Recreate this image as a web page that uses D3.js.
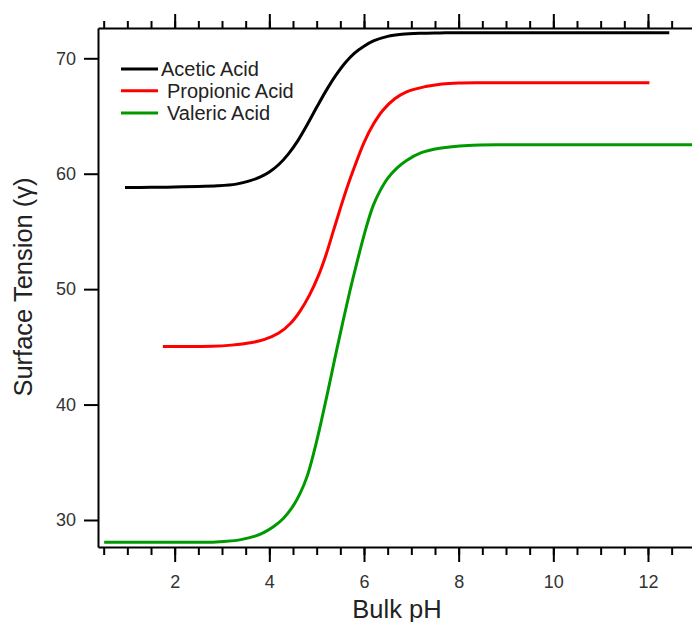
<!DOCTYPE html>
<html>
<head>
<meta charset="utf-8">
<script src="https://cdn.jsdelivr.net/npm/d3@7"></script>
<style>
  body { margin: 0; background: #fff; }
  svg { display: block; font-family: "Liberation Sans", Arial, sans-serif; }
</style>
</head>
<body>
<svg id="chart" width="692" height="622"></svg>
<script>
// values: [pH, surface tension]
const acetic = [
  [0.95, 58.81], [1.5, 58.82], [2.0, 58.85], [2.5, 58.9], [2.9, 58.95],
  [3.3, 59.1], [3.6, 59.4], [3.8, 59.7], [4.0, 60.15], [4.2, 60.8],
  [4.4, 61.7], [4.6, 62.85], [4.8, 64.25], [5.0, 65.75], [5.2, 67.2],
  [5.4, 68.5], [5.6, 69.6], [5.8, 70.45], [6.0, 71.05], [6.2, 71.5],
  [6.5, 71.9], [6.8, 72.08], [7.2, 72.17], [7.6, 72.2], [8.0, 72.22],
  [9.0, 72.22], [10.0, 72.22], [11.0, 72.22], [12.45, 72.22]
];
const propionic = [
  [1.75, 45.03], [2.3, 45.04], [2.8, 45.05], [3.2, 45.15], [3.6, 45.35],
  [3.9, 45.65], [4.2, 46.2], [4.45, 47.05], [4.65, 48.1], [4.85, 49.5],
  [5.05, 51.3], [5.2, 53.0], [5.35, 55.0], [5.5, 57.0], [5.65, 58.9],
  [5.8, 60.6], [6.0, 62.7], [6.2, 64.3], [6.4, 65.5], [6.65, 66.5],
  [6.9, 67.1], [7.3, 67.55], [7.65, 67.78], [8.0, 67.87], [8.5, 67.89],
  [9.5, 67.89], [10.5, 67.89], [12.03, 67.89]
];
const valeric = [
  [0.51, 28.07], [1.2, 28.07], [2.0, 28.07], [2.8, 28.08], [3.1, 28.15],
  [3.4, 28.3], [3.7, 28.6], [3.9, 28.95], [4.1, 29.45], [4.3, 30.15],
  [4.5, 31.2], [4.65, 32.3], [4.8, 33.8], [4.95, 36.0], [5.1, 38.6],
  [5.25, 41.4], [5.4, 44.3], [5.55, 47.1], [5.7, 49.8], [5.85, 52.3],
  [6.05, 55.4], [6.2, 57.3], [6.35, 58.6], [6.5, 59.6], [6.7, 60.5],
  [6.9, 61.15], [7.2, 61.8], [7.6, 62.2], [8.2, 62.45], [9.0, 62.51],
  [10.0, 62.51], [11.0, 62.51], [12.93, 62.51]
];
const seriesNames = ["Acetic Acid", "Propionic Acid", "Valeric Acid"];
const xMajor = [2, 4, 6, 8, 10, 12];
const xMinor = d3.range(0.5, 13, 0.5);
const yTicks = [30, 40, 50, 60, 70];

const colors = ["#000000", "#ff0000", "#009a00"];
const svg = d3.select("#chart");

const plotL = 98, plotR = 692, plotT = 28, plotB = 547;
const x = d3.scaleLinear().domain([0.38, 12.93]).range([plotL, plotR]);
const y = d3.scaleLinear().domain([27.66, 72.625]).range([plotB, plotT]);

svg.append("defs").append("clipPath").attr("id", "plot")
  .append("rect")
  .attr("x", plotL).attr("y", plotT)
  .attr("width", plotR - plotL).attr("height", plotB - plotT);

function styleAxis(g) {
  g.selectAll("path.domain").attr("stroke", "#000").attr("stroke-width", 2);
  g.selectAll(".tick line").attr("stroke", "#000").attr("stroke-width", 2);
  g.selectAll(".tick text")
    .attr("fill", "#333")
    .attr("font-size", 18)
    .attr("font-family", "'Liberation Sans', Arial, sans-serif");
}

// bottom axis: minor then major
svg.append("g")
  .attr("transform", `translate(0,${plotB})`)
  .call(d3.axisBottom(x).tickValues(xMinor).tickSize(8).tickSizeOuter(0).tickFormat(""))
  .call(styleAxis);
svg.append("g")
  .attr("transform", `translate(0,${plotB})`)
  .call(d3.axisBottom(x).tickValues(xMajor).tickSize(15).tickSizeOuter(0).tickPadding(13))
  .call(styleAxis)
  .call(g => g.select("path.domain").remove());

// top axis, no labels
svg.append("g")
  .attr("transform", `translate(0,${plotT})`)
  .call(d3.axisTop(x).tickValues(xMinor).tickSize(7).tickSizeOuter(0).tickFormat(""))
  .call(styleAxis);
svg.append("g")
  .attr("transform", `translate(0,${plotT})`)
  .call(d3.axisTop(x).tickValues(xMajor).tickSize(14).tickSizeOuter(0).tickFormat(""))
  .call(styleAxis)
  .call(g => g.select("path.domain").remove());

// left axis
svg.append("g")
  .attr("transform", `translate(${plotL},0)`)
  .call(d3.axisLeft(y).tickValues(yTicks).tickSize(14).tickSizeOuter(0).tickPadding(8))
  .call(styleAxis);

// curves
const line = d3.line()
  .x(d => x(d[0]))
  .y(d => y(d[1]))
  .curve(d3.curveCatmullRom.alpha(0.5));

svg.append("g")
  .attr("clip-path", "url(#plot)")
  .selectAll("path")
  .data([acetic, propionic, valeric])
  .join("path")
    .attr("d", line)
    .attr("fill", "none")
    .attr("stroke", (d, i) => colors[i])
    .attr("stroke-width", 3);

// legend
const legendLineY = [69, 90.7, 113];
const legendTextX = [161, 167, 167];
const legend = svg.append("g");
legend.selectAll("line")
  .data(seriesNames)
  .join("line")
    .attr("x1", 121).attr("x2", 158)
    .attr("y1", (d, i) => legendLineY[i])
    .attr("y2", (d, i) => legendLineY[i])
    .attr("stroke", (d, i) => colors[i])
    .attr("stroke-width", 3);
legend.selectAll("text")
  .data(seriesNames)
  .join("text")
    .attr("x", (d, i) => legendTextX[i])
    .attr("y", (d, i) => legendLineY[i] + 7)
    .attr("font-size", 20)
    .attr("fill", "#222")
    .text(d => d);

// axis titles
svg.append("text")
  .attr("x", 397)
  .attr("y", 618)
  .attr("text-anchor", "middle")
  .attr("font-size", 25.5)
  .attr("fill", "#222")
  .text("Bulk pH");

svg.append("text")
  .attr("transform", "translate(32,287) rotate(-90)")
  .attr("text-anchor", "middle")
  .attr("font-size", 25.5)
  .attr("fill", "#222")
  .text("Surface Tension (γ)");
</script>
</body>
</html>
